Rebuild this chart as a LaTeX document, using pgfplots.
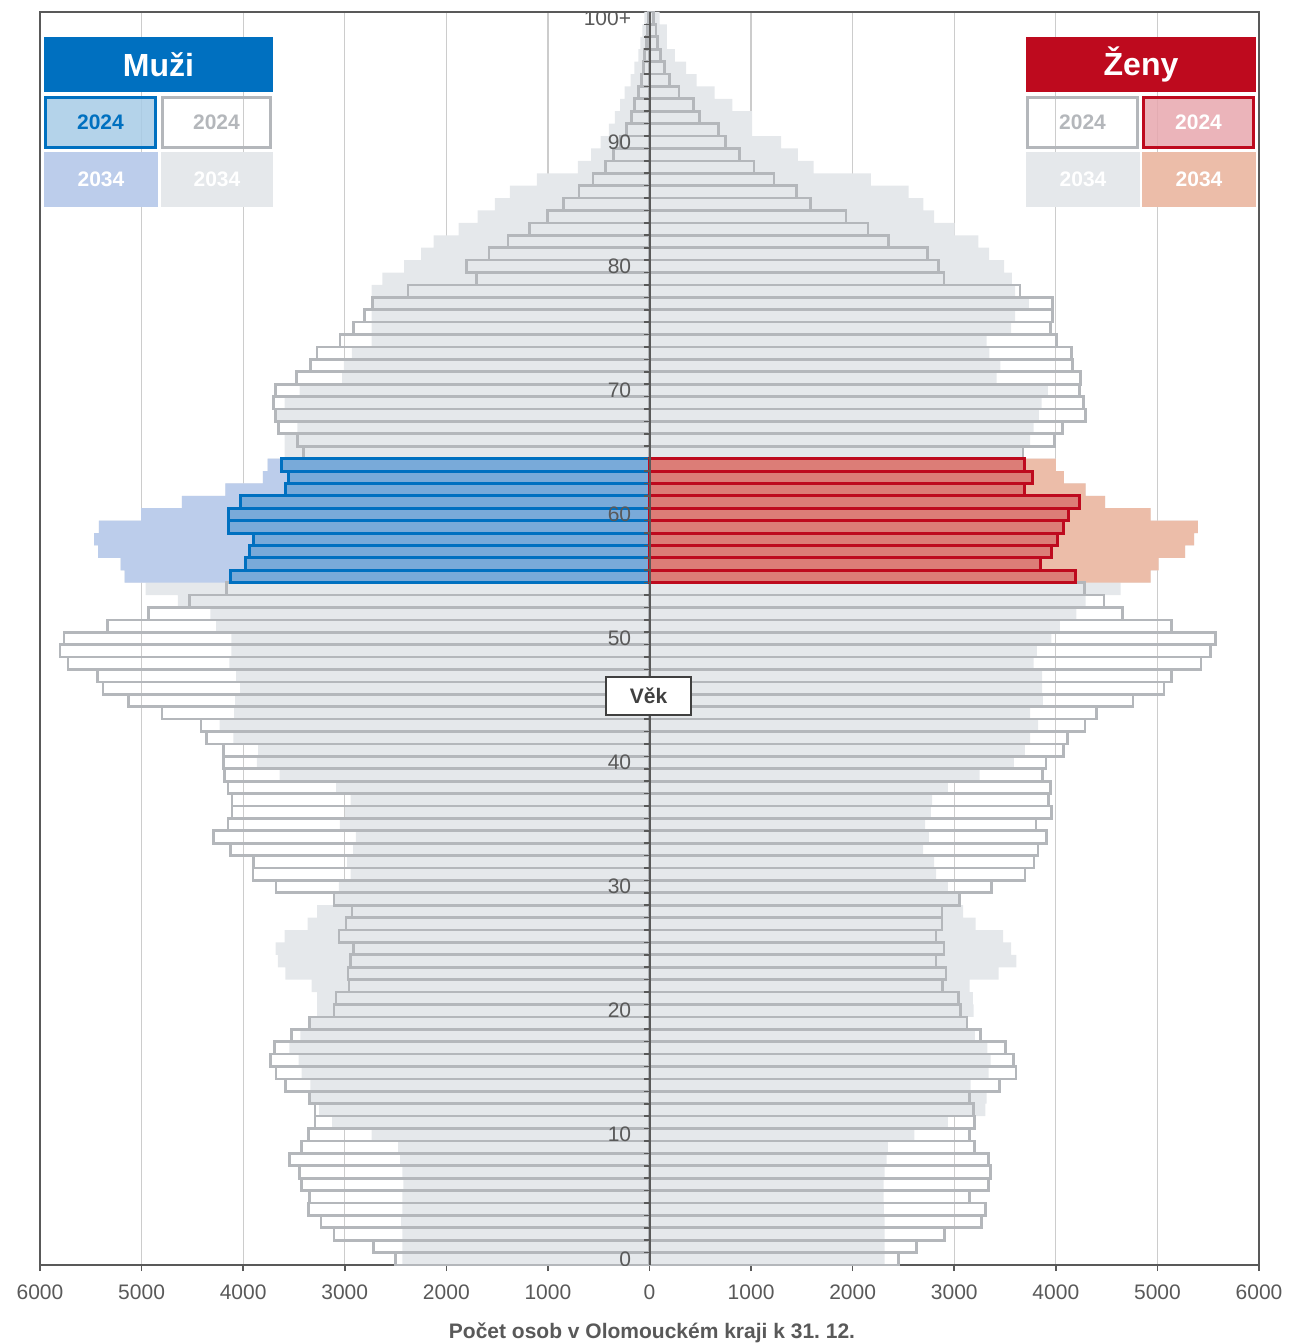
\documentclass[border=0pt]{standalone}
\usepackage{pgfplots}
\pgfplotsset{compat=1.18}
\usepackage{pgfplotstable}
\usepackage{fontspec}
\setmainfont{Liberation Sans}
\setsansfont{Liberation Sans}
\frenchspacing

\definecolor{gfill}{HTML}{E5E8EB}
\definecolor{gline}{HTML}{B4B7BB}
\definecolor{bfill34}{HTML}{BCCDEB}
\definecolor{bfill24}{HTML}{79AAD9}
\definecolor{bline}{HTML}{0070C0}
\definecolor{rfill34}{HTML}{ECBDA9}
\definecolor{rfill24}{HTML}{DC7D77}
\definecolor{rline}{HTML}{BE0A1E}
\definecolor{lblue}{HTML}{A7CBE6}
\definecolor{lpink}{HTML}{E8A7AE}
\definecolor{axc}{HTML}{595959}
\definecolor{gridc}{HTML}{CCCCCC}
\definecolor{vekc}{HTML}{404040}

\pgfplotstableread{
age m24 m34 f24 f34
0 2502 2432 2451 2315
1 2716 2432 2626 2315
2 3105 2432 2907 2315
3 3233 2444 3268 2315
4 3358 2432 3307 2307
5 3346 2432 3152 2304
6 3424 2424 3339 2304
7 3447 2432 3354 2315
8 3545 2455 3335 2335
9 3424 2475 3202 2346
10 3358 2735 3152 2607
11 3292 3125 3202 2938
12 3292 3253 3191 3307
13 3346 3330 3152 3319
14 3584 3339 3444 3160
15 3677 3424 3607 3339
16 3728 3455 3580 3358
17 3689 3545 3502 3327
18 3525 3436 3257 3202
19 3346 3340 3124 3130
20 3105 3272 3062 3191
21 3086 3272 3043 3183
22 2957 3327 2887 3152
23 2969 3584 2918 3436
24 2942 3658 2821 3611
25 2911 3681 2899 3560
26 3058 3591 2821 3482
27 2988 3366 2879 3210
28 2930 3272 2879 3086
29 3105 3100 3054 3035
30 3677 3058 3366 2938
31 3903 2942 3696 2821
32 3895 2977 3786 2802
33 4125 2918 3825 2693
34 4292 2891 3910 2751
35 4148 3047 3805 2712
36 4109 2996 3957 2770
37 4109 2942 3930 2782
38 4148 3086 3949 2938
39 4183 3642 3872 3249
40 4195 3864 3903 3588
41 4195 3852 4074 3696
42 4362 4097 4113 3747
43 4416 4233 4288 3825
44 4798 4090 4397 3747
45 5128 4078 4759 3872
46 5381 4031 5066 3864
47 5432 4070 5136 3864
48 5724 4136 5428 3782
49 5802 4117 5525 3813
50 5763 4117 5572 3957
51 5335 4265 5136 4039
52 4934 4323 4658 4202
53 4525 4642 4475 4292
54 4163 4961 4280 4638
55 4125 5167 4195 4934
56 3981 5206 3844 5012
57 3942 5428 3961 5272
58 3903 5467 4019 5362
59 4148 5420 4074 5397
60 4148 5004 4125 4934
61 4027 4603 4230 4486
62 3584 4175 3696 4292
63 3553 3805 3767 4078
64 3623 3759 3689 4000
65 3409 3591 3677 3677
66 3467 3591 3988 3747
67 3650 3467 4066 3782
68 3681 3680 4292 3833
69 3700 3591 4272 3860
70 3681 3444 4233 3922
71 3475 3027 4241 3416
72 3339 3008 4163 3455
73 3272 2930 4156 3346
74 3047 2735 4008 3319
75 2911 2735 3949 3560
76 2805 2735 3969 3599
77 2724 2735 3969 3735
78 2377 2735 3646 3600
79 1704 2630 2899 3568
80 1802 2416 2848 3490
81 1580 2249 2735 3342
82 1393 2125 2354 3237
83 1179 1879 2152 3004
84 1004 1693 1934 2802
85 848 1521 1584 2696
86 693 1375 1450 2550
87 556 1110 1225 2180
88 432 705 1030 1615
89 354 575 885 1460
90 284 480 750 1295
91 226 400 680 1010
92 179 340 495 1010
93 148 290 430 815
94 109 245 290 640
95 82 185 195 465
96 62 150 145 360
97 51 110 105 250
98 31 90 80 170
99 23 70 65 170
100 15 50 40 100
}\pyr

\begin{document}
\begin{tikzpicture}
\path[use as bounding box] (0,0) rectangle (644.5pt,672pt);
\begin{axis}[
  at={(20pt,39.5pt)}, anchor=south west,
  width=609.5pt, height=626.5pt, scale only axis,
  xmin=-6000, xmax=6000, ymin=-0.5, ymax=100.5,
  ytick=\empty,
  xtick={-6000,-5000,...,6000},
  xticklabels={6000,5000,4000,3000,2000,1000,0,1000,2000,3000,4000,5000,6000},
  scaled x ticks=false,
  xtick pos=left, tick align=outside, major tick length=3pt,
  xmajorgrids, grid style={color=gridc, line width=0.6pt},
  axis line style={color=axc, line width=1pt},
  tick style={color=axc, line width=0.8pt},
  xticklabel style={font=\fontsize{10.5}{12}\selectfont, text=axc, yshift=-3.5pt},
  /pgf/number format/assume math mode=true,
]
% 2034 fills
\addplot[xbar, bar width=1, bar shift=0, fill=gfill, draw=none] table[x expr=-\thisrow{m34}, y=age] {\pyr};
\addplot[xbar, bar width=1, bar shift=0, fill=gfill, draw=none] table[x=f34, y=age] {\pyr};
\addplot[xbar, bar width=1, bar shift=0, fill=bfill34, draw=none, restrict y to domain=55:64] table[x expr=-\thisrow{m34}, y=age] {\pyr};
\addplot[xbar, bar width=1, bar shift=0, fill=rfill34, draw=none, restrict y to domain=55:64] table[x=f34, y=age] {\pyr};
% 2024 outlines
\addplot[xbar, bar width=1, bar shift=0, fill=none, draw=gline, line width=1.35pt, restrict y to domain=0:54] table[x expr=-\thisrow{m24}, y=age] {\pyr};
\addplot[xbar, bar width=1, bar shift=0, fill=none, draw=gline, line width=1.35pt, restrict y to domain=65:100] table[x expr=-\thisrow{m24}, y=age] {\pyr};
\addplot[xbar, bar width=1, bar shift=0, fill=none, draw=gline, line width=1.35pt, restrict y to domain=0:54] table[x=f24, y=age] {\pyr};
\addplot[xbar, bar width=1, bar shift=0, fill=none, draw=gline, line width=1.35pt, restrict y to domain=65:100] table[x=f24, y=age] {\pyr};
\addplot[xbar, bar width=1, bar shift=0, fill=bfill24, draw=bline, line width=1.5pt, restrict y to domain=55:64] table[x expr=-\thisrow{m24}, y=age] {\pyr};
\addplot[xbar, bar width=1, bar shift=0, fill=rfill24, draw=rline, line width=1.5pt, restrict y to domain=55:64] table[x=f24, y=age] {\pyr};
% centre axis, ticks, age labels
\draw[axc, line width=1pt] (axis cs:0,-0.5) -- (axis cs:0,100.5);
\pgfplotsinvokeforeach{0.5,1.5,...,99.5}{\draw[axc, line width=0.8pt] (axis cs:0,#1) -- ++(-3pt,0pt);}
\pgfplotsinvokeforeach{0,10,20,30,40,50,60,70,80,90}{\node[anchor=east, inner sep=0pt, xshift=-9pt, text=axc, font=\fontsize{10.5}{12}\selectfont] at (axis cs:0,#1) {#1};}
\node[anchor=east, inner sep=0pt, xshift=-9pt, text=axc, font=\fontsize{10.5}{12}\selectfont] at (axis cs:0,100) {100+};
\end{axis}

% Legend men
\fill[bline] (22pt,626pt) rectangle (136.5pt,653.5pt);
\node[text=white, font=\bfseries\fontsize{16}{18}\selectfont] at (79.25pt,639.75pt) {Muži};
\filldraw[fill=lblue, fill opacity=0.85, draw=bline, line width=1.5pt] (22.75pt,598.25pt) rectangle (77.75pt,623.25pt);
\node[text=bline, font=\bfseries\fontsize{10.5}{12}\selectfont] at (50.25pt,610.75pt) {2024};
\draw[gline, line width=1.5pt] (81.25pt,598.25pt) rectangle (135.25pt,623.25pt);
\node[text=gline, font=\bfseries\fontsize{10.5}{12}\selectfont] at (108.25pt,610.75pt) {2024};
\fill[bfill34] (22pt,568.5pt) rectangle (79pt,596pt);
\node[text=white, font=\bfseries\fontsize{10.5}{12}\selectfont] at (50.5pt,582.25pt) {2034};
\fill[gfill] (80.5pt,568.5pt) rectangle (136.5pt,596pt);
\node[text=white, font=\bfseries\fontsize{10.5}{12}\selectfont] at (108.5pt,582.25pt) {2034};

% Legend women
\fill[rline] (513pt,626pt) rectangle (628pt,653.5pt);
\node[text=white, font=\bfseries\fontsize{16}{18}\selectfont] at (570.5pt,639.75pt) {Ženy};
\draw[gline, line width=1.5pt] (513.75pt,598.25pt) rectangle (568.75pt,623.25pt);
\node[text=gline, font=\bfseries\fontsize{10.5}{12}\selectfont] at (541.25pt,610.75pt) {2024};
\filldraw[fill=lpink, fill opacity=0.85, draw=rline, line width=1.5pt] (571.75pt,598.25pt) rectangle (626.75pt,623.25pt);
\node[text=white, font=\bfseries\fontsize{10.5}{12}\selectfont] at (599.25pt,610.75pt) {2024};
\fill[gfill] (513pt,568.5pt) rectangle (570pt,596pt);
\node[text=white, font=\bfseries\fontsize{10.5}{12}\selectfont] at (541.5pt,582.25pt) {2034};
\fill[rfill34] (571pt,568.5pt) rectangle (628pt,596pt);
\node[text=white, font=\bfseries\fontsize{10.5}{12}\selectfont] at (599.5pt,582.25pt) {2034};

% Vek box
\filldraw[fill=white, draw=vekc, line width=1pt] (303pt,314.5pt) rectangle (345.5pt,333.5pt);
\node[text=vekc, font=\bfseries\fontsize{10.5}{12}\selectfont] at (324.25pt,324pt) {Věk};

% x label
\node[text=axc, font=\bfseries\fontsize{10.5}{12}\selectfont] at (326pt,5.5pt) {Počet osob v Olomouckém kraji k 31. 12.};
\end{tikzpicture}
\end{document}
